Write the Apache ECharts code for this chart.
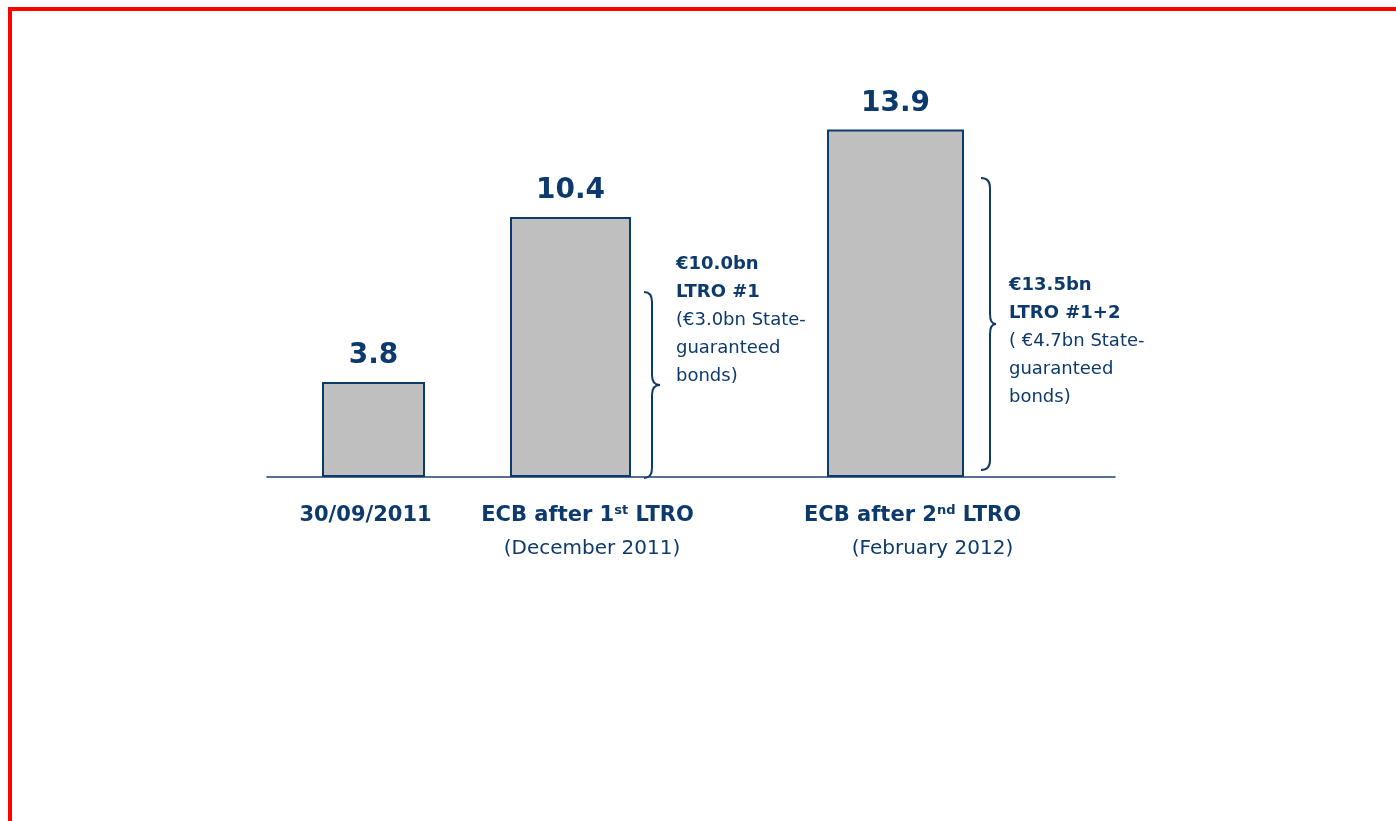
<!DOCTYPE html>
<html>
<head>
<meta charset="utf-8">
<script src="https://cdn.jsdelivr.net/npm/echarts@6/dist/echarts.min.js"></script>
<style>
  html, body { margin: 0; padding: 0; background: #ffffff; }
  #chart { width: 1396px; height: 821px; }
</style>
</head>
<body>
<div id="chart"></div>
<script>
// Bar categories, their date notes and values (EUR bn)
const categories = ['30/09/2011', 'ECB after 1st LTRO', 'ECB after 2nd LTRO'];
const subLabels = ['', '(December 2011)', '(February 2012)'];
const values = [3.8, 10.4, 13.9];

// Brace annotations beside the second and third bars
const noteTotals = ['€10.0bn', '€13.5bn'];
const noteNames = ['LTRO #1', 'LTRO #1+2'];
const noteDetails = [
  ['(€3.0bn State-', 'guaranteed', 'bonds)'],
  ['( €4.7bn State-', 'guaranteed', 'bonds)']
];

const NAVY = '#0d3a6c';
const FONT = '"DejaVu Sans", Verdana, sans-serif';

// Each bar sits in its own grid so widths and spacing can vary
const barGrids = [
  { left: 322, width: 103 },
  { left: 510, width: 121 },
  { left: 827, width: 137 }
];
// horizontal nudges for label lines (padding shifts a centred line)
const linePads = [
  [[0, 16], [0, 0]],
  [[34, 0], [43, 0]],
  [[34, 0], [74, 0]]
];
const TOP = 77, HEIGHT = 400, YMAX = 16;

const rich = {
  b: { fontFamily: FONT, fontWeight: 'bold', fontSize: 21, color: NAVY, lineHeight: 32 },
  sup: { fontFamily: FONT, fontWeight: 'bold', fontSize: 13, color: NAVY, lineHeight: 32, padding: [0, 0, 10, 0] },
  r: { fontFamily: FONT, fontSize: 20, color: NAVY, lineHeight: 34 }
};
// padding tokens
[16, 34, 43, 74].forEach(w => {
  rich['p' + w] = { width: w, fontSize: 12, lineHeight: 32 };
});

function categoryLabel(i) {
  const m = categories[i].match(/^(.*\d)(st|nd|rd|th)( .*)$/);
  const [p1, p2] = linePads[i];
  let line1 = '';
  if (p1[0]) line1 += '{p' + p1[0] + '| }';
  line1 += m ? '{b|' + m[1] + '}{sup|' + m[2] + '}{b|' + m[3] + '}' : '{b|' + categories[i] + '}';
  if (p1[1]) line1 += '{p' + p1[1] + '| }';
  if (!subLabels[i]) return line1;
  let line2 = '';
  if (p2[0]) line2 += '{p' + p2[0] + '| }';
  line2 += '{r|' + subLabels[i] + '}';
  if (p2[1]) line2 += '{p' + p2[1] + '| }';
  return line1 + '\n' + line2;
}

const grid = barGrids.map(g => ({ left: g.left, width: g.width, top: TOP, height: HEIGHT }));
grid.push({ left: 267, width: 848, top: TOP, height: HEIGHT });

const xAxis = barGrids.map((g, i) => ({
  type: 'category',
  gridIndex: i,
  data: [categories[i]],
  boundaryGap: true,
  axisLine: { show: false },
  axisTick: { show: false },
  axisLabel: {
    margin: 23,
    interval: 0,
    formatter: () => categoryLabel(i),
    rich: rich
  }
}));
xAxis.push({
  type: 'category',
  gridIndex: 3,
  data: [''],
  axisLine: { show: true, lineStyle: { color: '#1f4272', width: 1.6 } },
  axisTick: { show: false },
  axisLabel: { show: false }
});

const yAxis = grid.map((g, i) => ({
  type: 'value', gridIndex: i, min: 0, max: YMAX, show: false, splitLine: { show: false }
}));

const series = values.map((v, i) => ({
  type: 'bar',
  xAxisIndex: i,
  yAxisIndex: i,
  barWidth: '100%',
  data: [v],
  itemStyle: { color: '#bfbfbf', borderColor: NAVY, borderWidth: 2 },
  label: {
    show: true,
    position: 'top',
    distance: 12,
    formatter: p => p.value.toFixed(1),
    fontFamily: FONT,
    fontWeight: 'bold',
    fontSize: 28,
    color: NAVY
  },
  silent: true,
  z: 3
}));

// Curly brace built from curves and lines: top end, spine, tip pointing right, bottom end
function brace(x, top, bottom, depth, tip) {
  const mid = (top + bottom) / 2;
  const s = x + depth;
  const style = { stroke: NAVY, lineWidth: 2, fill: null };
  const curve = (x1, y1, cx, cy, x2, y2) => ({
    type: 'bezierCurve', silent: true, style: style,
    shape: { x1: x1, y1: y1, cpx1: cx, cpy1: cy, x2: x2, y2: y2 }
  });
  const line = (x1, y1, x2, y2) => ({
    type: 'line', silent: true, style: style,
    shape: { x1: x1, y1: y1, x2: x2, y2: y2 }
  });
  return [
    curve(x, top, s, top, s, top + 10),
    line(s, top + 10, s, mid - 10),
    curve(s, mid - 10, s, mid, s + tip, mid),
    curve(s + tip, mid, s, mid, s, mid + 10),
    line(s, mid + 10, s, bottom - 10),
    curve(s, bottom - 10, s, bottom, x, bottom)
  ];
}

function noteText(k) {
  return ['{b|' + noteTotals[k] + '}', '{b|' + noteNames[k] + '}']
    .concat(noteDetails[k].map(t => '{r|' + t + '}')).join('\n');
}
const noteRich = {
  b: { fontFamily: FONT, fontWeight: 'bold', fontSize: 18, fill: NAVY, lineHeight: 28 },
  r: { fontFamily: FONT, fontSize: 18, fill: NAVY, lineHeight: 28 }
};

const graphic = [
  // page frame
  { type: 'rect', shape: { x: 8, y: 7, width: 1388, height: 4 }, style: { fill: '#ff0000' }, silent: true },
  { type: 'rect', shape: { x: 8, y: 7, width: 4, height: 814 }, style: { fill: '#ff0000' }, silent: true },
  // annotations
  { type: 'text', x: 676, y: 250, style: { text: noteText(0), rich: noteRich, fill: NAVY }, silent: true },
  { type: 'text', x: 1009, y: 271, style: { text: noteText(1), rich: noteRich, fill: NAVY }, silent: true }
]
  .concat(brace(644, 292, 478, 8, 8))
  .concat(brace(981, 178, 470, 9, 6));

const chart = echarts.init(document.getElementById('chart'), null, { renderer: 'canvas' });
chart.setOption({
  backgroundColor: '#ffffff',
  animation: false,
  grid: grid,
  xAxis: xAxis,
  yAxis: yAxis,
  series: series,
  graphic: graphic
});
</script>
</body>
</html>
